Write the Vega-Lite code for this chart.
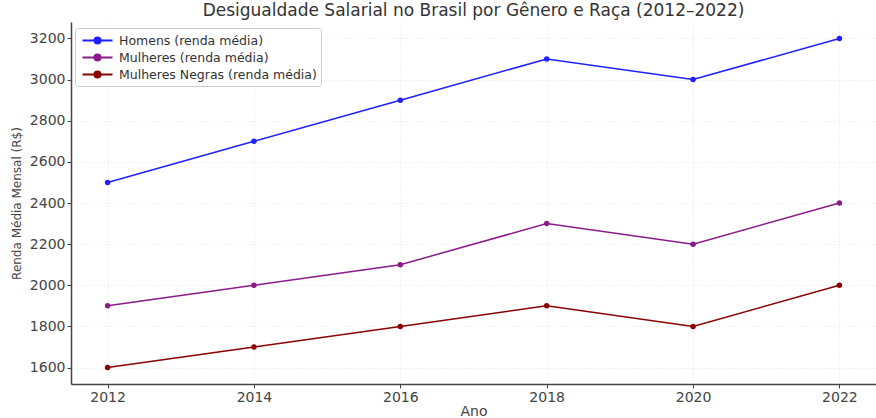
{
  "$schema": "https://vega.github.io/schema/vega-lite/v6.json",
  "width": 805,
  "height": 362,
  "autosize": {"type": "none"},
  "padding": {"left": 71, "top": 22, "right": 0, "bottom": 34},
  "background": "white",
  "title": {"text": "Desigualdade Salarial no Brasil por Gênero e Raça (2012–2022)", "font": "DejaVu Sans", "fontSize": 17, "fontWeight": "normal", "color": "#333", "offset": 2, "anchor": "middle"},
  "config": {
    "font": "DejaVu Sans",
    "view": {"stroke": null},
    "axis": {"labelFont": "DejaVu Sans", "titleFont": "DejaVu Sans", "labelFontSize": 14, "titleFontSize": 14, "labelColor": "#444", "titleColor": "#444", "titleFontWeight": "normal", "domainColor": "#444", "domainWidth": 1.5, "tickColor": "#444", "tickSize": 4, "gridColor": "#e6e6e6", "gridDash": [1, 2], "gridWidth": 1}
  },
  "data": {"values": [
    {"ano": 2012, "grupo": "Homens (renda média)", "renda": 2500},
    {"ano": 2014, "grupo": "Homens (renda média)", "renda": 2700},
    {"ano": 2016, "grupo": "Homens (renda média)", "renda": 2900},
    {"ano": 2018, "grupo": "Homens (renda média)", "renda": 3100},
    {"ano": 2020, "grupo": "Homens (renda média)", "renda": 3000},
    {"ano": 2022, "grupo": "Homens (renda média)", "renda": 3200},
    {"ano": 2012, "grupo": "Mulheres (renda média)", "renda": 1900},
    {"ano": 2014, "grupo": "Mulheres (renda média)", "renda": 2000},
    {"ano": 2016, "grupo": "Mulheres (renda média)", "renda": 2100},
    {"ano": 2018, "grupo": "Mulheres (renda média)", "renda": 2300},
    {"ano": 2020, "grupo": "Mulheres (renda média)", "renda": 2200},
    {"ano": 2022, "grupo": "Mulheres (renda média)", "renda": 2400},
    {"ano": 2012, "grupo": "Mulheres Negras (renda média)", "renda": 1600},
    {"ano": 2014, "grupo": "Mulheres Negras (renda média)", "renda": 1700},
    {"ano": 2016, "grupo": "Mulheres Negras (renda média)", "renda": 1800},
    {"ano": 2018, "grupo": "Mulheres Negras (renda média)", "renda": 1900},
    {"ano": 2020, "grupo": "Mulheres Negras (renda média)", "renda": 1800},
    {"ano": 2022, "grupo": "Mulheres Negras (renda média)", "renda": 2000}
  ]},
  "encoding": {
    "x": {"field": "ano", "type": "quantitative", "title": "Ano", "scale": {"domain": [2011.5, 2022.5], "nice": false, "zero": false}, "axis": {"values": [2012, 2014, 2016, 2018, 2020, 2022], "format": "d", "titlePadding": 0}},
    "y": {"field": "renda", "type": "quantitative", "title": "Renda Média Mensal (R$)", "scale": {"domain": [1520, 3280], "nice": false, "zero": false}, "axis": {"values": [1600, 1800, 2000, 2200, 2400, 2600, 2800, 3000, 3200], "format": "d", "titlePadding": 6, "titleFontSize": 12}},
    "color": {"field": "grupo", "type": "nominal", "scale": {"domain": ["Homens (renda média)", "Mulheres (renda média)", "Mulheres Negras (renda média)"], "range": ["#1f1fff", "#8b1a8b", "#8b0000"]},
      "legend": {"title": null, "orient": "none", "legendX": 4, "legendY": 6, "fillColor": "white", "strokeColor": "#cccccc", "cornerRadius": 3, "padding": 4, "labelFontSize": 12.5, "labelLimit": 400, "labelColor": "#333", "labelFont": "DejaVu Sans", "labelOffset": 13, "symbolOffset": 10, "symbolType": "M-2,0H2M-0.4,0A0.4,0.4,0,1,1,0.4,0A0.4,0.4,0,1,1,-0.4,0Z", "symbolSize": 225, "symbolStrokeWidth": 2, "rowPadding": 1}}
  },
  "layer": [
    {"mark": {"type": "line", "strokeWidth": 1.5}},
    {"mark": {"type": "point", "filled": true, "size": 30, "opacity": 1}}
  ]
}
